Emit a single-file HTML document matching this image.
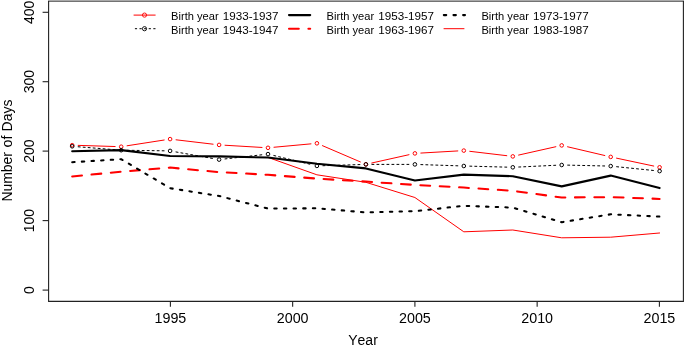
<!DOCTYPE html>
<html><head><meta charset="utf-8"><title>Chart</title>
<style>html,body{margin:0;padding:0;background:#fff;}svg{display:block;}text{font-family:"Liberation Sans",sans-serif;fill:#000;}svg{will-change:transform;}</style></head><body>
<svg width="685" height="347" viewBox="0 0 685 347">
<rect x="0" y="0" width="685" height="347" fill="#fff"/>
<rect x="48" y="0" width="636" height="1" fill="#a9a9a9"/>
<rect x="48" y="1" width="636" height="0.75" fill="#444"/>
<polyline points="48.6,1 48.6,301.4 683.4,301.4 683.4,1" fill="none" stroke="#222" stroke-width="1.1"/>
<line x1="42.6" y1="290.1" x2="48.6" y2="290.1" stroke="#222" stroke-width="1.1"/>
<text transform="translate(34,290.1) rotate(-90)" text-anchor="middle" font-size="14">0</text>
<line x1="42.6" y1="220.6" x2="48.6" y2="220.6" stroke="#222" stroke-width="1.1"/>
<text transform="translate(34,220.6) rotate(-90)" text-anchor="middle" font-size="14">100</text>
<line x1="42.6" y1="151.1" x2="48.6" y2="151.1" stroke="#222" stroke-width="1.1"/>
<text transform="translate(34,151.1) rotate(-90)" text-anchor="middle" font-size="14">200</text>
<line x1="42.6" y1="81.7" x2="48.6" y2="81.7" stroke="#222" stroke-width="1.1"/>
<text transform="translate(34,81.7) rotate(-90)" text-anchor="middle" font-size="14">300</text>
<line x1="42.6" y1="12.3" x2="48.6" y2="12.3" stroke="#222" stroke-width="1.1"/>
<text transform="translate(34,12.3) rotate(-90)" text-anchor="middle" font-size="14">400</text>
<line x1="170.4" y1="301.4" x2="170.4" y2="306.8" stroke="#222" stroke-width="1.1"/>
<text x="170.4" y="322.5" text-anchor="middle" font-size="14.3">1995</text>
<line x1="292.65" y1="301.4" x2="292.65" y2="306.8" stroke="#222" stroke-width="1.1"/>
<text x="292.65" y="322.5" text-anchor="middle" font-size="14.3">2000</text>
<line x1="414.9" y1="301.4" x2="414.9" y2="306.8" stroke="#222" stroke-width="1.1"/>
<text x="414.9" y="322.5" text-anchor="middle" font-size="14.3">2005</text>
<line x1="537.15" y1="301.4" x2="537.15" y2="306.8" stroke="#222" stroke-width="1.1"/>
<text x="537.15" y="322.5" text-anchor="middle" font-size="14.3">2010</text>
<line x1="659.4" y1="301.4" x2="659.4" y2="306.8" stroke="#222" stroke-width="1.1"/>
<text x="659.4" y="322.5" text-anchor="middle" font-size="14.3">2015</text>
<text x="348.3" y="345.3" font-size="14" style="font-kerning:none" textLength="29.5" lengthAdjust="spacing">Year</text>
<text transform="translate(12.2,201.6) rotate(-90)" font-size="14.2" textLength="49.6" lengthAdjust="spacingAndGlyphs">Number</text>
<text transform="translate(12.2,147.5) rotate(-90)" font-size="14.2">of</text>
<text transform="translate(12.2,131.4) rotate(-90)" font-size="14.2" textLength="31.8" lengthAdjust="spacingAndGlyphs">Days</text>
<line x1="78.20" y1="145.38" x2="115.15" y2="146.52" stroke="#ff0000" stroke-width="1.0" stroke-linecap="round"/>
<line x1="127.08" y1="145.78" x2="164.17" y2="140.02" stroke="#ff0000" stroke-width="1.0" stroke-linecap="round"/>
<line x1="176.06" y1="139.81" x2="213.09" y2="144.19" stroke="#ff0000" stroke-width="1.0" stroke-linecap="round"/>
<line x1="225.04" y1="145.25" x2="262.01" y2="147.45" stroke="#ff0000" stroke-width="1.0" stroke-linecap="round"/>
<line x1="273.97" y1="147.25" x2="310.98" y2="143.85" stroke="#ff0000" stroke-width="1.0" stroke-linecap="round"/>
<line x1="322.46" y1="145.67" x2="360.39" y2="161.93" stroke="#ff0000" stroke-width="1.0" stroke-linecap="round"/>
<line x1="371.76" y1="163.00" x2="408.99" y2="154.70" stroke="#ff0000" stroke-width="1.0" stroke-linecap="round"/>
<line x1="420.84" y1="153.06" x2="457.81" y2="150.94" stroke="#ff0000" stroke-width="1.0" stroke-linecap="round"/>
<line x1="469.76" y1="151.31" x2="506.79" y2="155.69" stroke="#ff0000" stroke-width="1.0" stroke-linecap="round"/>
<line x1="518.60" y1="155.08" x2="555.85" y2="146.72" stroke="#ff0000" stroke-width="1.0" stroke-linecap="round"/>
<line x1="567.54" y1="146.77" x2="604.81" y2="155.53" stroke="#ff0000" stroke-width="1.0" stroke-linecap="round"/>
<line x1="616.52" y1="158.15" x2="653.73" y2="166.05" stroke="#ff0000" stroke-width="1.0" stroke-linecap="round"/>
<circle cx="72.2" cy="145.2" r="1.8" fill="none" stroke="#ff0000" stroke-width="1.0"/>
<circle cx="121.2" cy="146.7" r="1.8" fill="none" stroke="#ff0000" stroke-width="1.0"/>
<circle cx="170.1" cy="139.1" r="1.8" fill="none" stroke="#ff0000" stroke-width="1.0"/>
<circle cx="219.1" cy="144.9" r="1.8" fill="none" stroke="#ff0000" stroke-width="1.0"/>
<circle cx="268.0" cy="147.8" r="1.8" fill="none" stroke="#ff0000" stroke-width="1.0"/>
<circle cx="316.9" cy="143.3" r="1.8" fill="none" stroke="#ff0000" stroke-width="1.0"/>
<circle cx="365.9" cy="164.3" r="1.8" fill="none" stroke="#ff0000" stroke-width="1.0"/>
<circle cx="414.9" cy="153.4" r="1.8" fill="none" stroke="#ff0000" stroke-width="1.0"/>
<circle cx="463.8" cy="150.6" r="1.8" fill="none" stroke="#ff0000" stroke-width="1.0"/>
<circle cx="512.8" cy="156.4" r="1.8" fill="none" stroke="#ff0000" stroke-width="1.0"/>
<circle cx="561.7" cy="145.4" r="1.8" fill="none" stroke="#ff0000" stroke-width="1.0"/>
<circle cx="610.7" cy="156.9" r="1.8" fill="none" stroke="#ff0000" stroke-width="1.0"/>
<circle cx="659.6" cy="167.3" r="1.8" fill="none" stroke="#ff0000" stroke-width="1.0"/>
<line x1="78.18" y1="146.78" x2="115.17" y2="149.72" stroke="#000" stroke-width="1.0" stroke-linecap="round" stroke-dasharray="2.0 3.0"/>
<line x1="127.15" y1="150.29" x2="164.10" y2="150.81" stroke="#000" stroke-width="1.0" stroke-linecap="round" stroke-dasharray="2.0 3.0"/>
<line x1="176.01" y1="151.95" x2="213.14" y2="158.55" stroke="#000" stroke-width="1.0" stroke-linecap="round" stroke-dasharray="2.0 3.0"/>
<line x1="225.01" y1="158.93" x2="262.04" y2="154.77" stroke="#000" stroke-width="1.0" stroke-linecap="round" stroke-dasharray="2.0 3.0"/>
<line x1="273.83" y1="155.51" x2="311.12" y2="164.49" stroke="#000" stroke-width="1.0" stroke-linecap="round" stroke-dasharray="2.0 3.0"/>
<line x1="322.95" y1="165.72" x2="359.90" y2="164.58" stroke="#000" stroke-width="1.0" stroke-linecap="round" stroke-dasharray="2.0 3.0"/>
<line x1="371.90" y1="164.40" x2="408.85" y2="164.40" stroke="#000" stroke-width="1.0" stroke-linecap="round" stroke-dasharray="2.0 3.0"/>
<line x1="420.85" y1="164.60" x2="457.80" y2="165.80" stroke="#000" stroke-width="1.0" stroke-linecap="round" stroke-dasharray="2.0 3.0"/>
<line x1="469.80" y1="166.16" x2="506.75" y2="167.14" stroke="#000" stroke-width="1.0" stroke-linecap="round" stroke-dasharray="2.0 3.0"/>
<line x1="518.74" y1="167.02" x2="555.71" y2="165.28" stroke="#000" stroke-width="1.0" stroke-linecap="round" stroke-dasharray="2.0 3.0"/>
<line x1="567.70" y1="165.13" x2="604.65" y2="165.97" stroke="#000" stroke-width="1.0" stroke-linecap="round" stroke-dasharray="2.0 3.0"/>
<line x1="616.62" y1="166.71" x2="653.63" y2="170.49" stroke="#000" stroke-width="1.0" stroke-linecap="round" stroke-dasharray="2.0 3.0"/>
<circle cx="72.2" cy="146.3" r="1.8" fill="none" stroke="#000" stroke-width="1.0"/>
<circle cx="121.2" cy="150.2" r="1.8" fill="none" stroke="#000" stroke-width="1.0"/>
<circle cx="170.1" cy="150.9" r="1.8" fill="none" stroke="#000" stroke-width="1.0"/>
<circle cx="219.1" cy="159.6" r="1.8" fill="none" stroke="#000" stroke-width="1.0"/>
<circle cx="268.0" cy="154.1" r="1.8" fill="none" stroke="#000" stroke-width="1.0"/>
<circle cx="316.9" cy="165.9" r="1.8" fill="none" stroke="#000" stroke-width="1.0"/>
<circle cx="365.9" cy="164.4" r="1.8" fill="none" stroke="#000" stroke-width="1.0"/>
<circle cx="414.9" cy="164.4" r="1.8" fill="none" stroke="#000" stroke-width="1.0"/>
<circle cx="463.8" cy="166.0" r="1.8" fill="none" stroke="#000" stroke-width="1.0"/>
<circle cx="512.8" cy="167.3" r="1.8" fill="none" stroke="#000" stroke-width="1.0"/>
<circle cx="561.7" cy="165.0" r="1.8" fill="none" stroke="#000" stroke-width="1.0"/>
<circle cx="610.7" cy="166.1" r="1.8" fill="none" stroke="#000" stroke-width="1.0"/>
<circle cx="659.6" cy="171.1" r="1.8" fill="none" stroke="#000" stroke-width="1.0"/>
<polyline points="268.0,157.4 316.9,174.8 365.9,182.3 414.9,197.5 463.8,231.8 512.8,230.0 561.7,237.8 610.7,237.2 659.6,233.0" fill="none" stroke="#ff0000" stroke-width="1.0" stroke-linejoin="round" stroke-linecap="round"/>
<polyline points="72.2,176.4 121.2,171.7 170.1,167.6 219.1,172.1 268.0,174.8 316.9,178.6 365.9,181.6 414.9,184.9 463.8,187.6 512.8,190.8 561.7,197.5 610.7,197.1 659.6,198.9" fill="none" stroke="#ff0000" stroke-width="2.05" stroke-dasharray="9.8 9.6" stroke-linejoin="round" stroke-linecap="round"/>
<polyline points="72.2,162.2 121.2,159.2 170.1,188.2 219.1,196.0 268.0,208.6 316.9,208.3 365.9,212.4 414.9,211.2 463.8,205.8 512.8,207.6 561.7,222.2 610.7,214.3 659.6,216.6" fill="none" stroke="#000" stroke-width="2.05" stroke-dasharray="2.45 7.2" stroke-linejoin="round" stroke-linecap="round"/>
<polyline points="72.2,151.2 121.2,150.1 170.1,156.0 219.1,156.4 268.0,157.5 316.9,163.7 365.9,168.4 414.9,180.5 463.8,174.6 512.8,176.2 561.7,186.4 610.7,175.6 659.6,188.1" fill="none" stroke="#000" stroke-width="2.1" stroke-linejoin="round" stroke-linecap="round"/>
<line x1="134" y1="15.1" x2="155.2" y2="15.1" stroke="#ff0000" stroke-width="1.0" stroke-linecap="round"/>
<circle cx="144.5" cy="15.1" r="2.1" fill="none" stroke="#ff0000" stroke-width="0.9"/>
<line x1="135.3" y1="28.7" x2="155.3" y2="28.7" stroke="#000" stroke-width="1.0" stroke-linecap="round" stroke-dasharray="1.4 3.2"/>
<circle cx="144.5" cy="28.7" r="2.1" fill="none" stroke="#000" stroke-width="0.9"/>
<line x1="289" y1="15.1" x2="310.2" y2="15.1" stroke="#000" stroke-width="2.1" stroke-linecap="round"/>
<line x1="289" y1="28.7" x2="310.2" y2="28.7" stroke="#ff0000" stroke-width="2.05" stroke-linecap="round" stroke-dasharray="9.8 9.6"/>
<line x1="443.8" y1="15.1" x2="465.0" y2="15.1" stroke="#000" stroke-width="2.05" stroke-linecap="round" stroke-dasharray="2.45 7.2"/>
<line x1="444" y1="28.7" x2="464" y2="28.7" stroke="#ff0000" stroke-width="1.0" stroke-linecap="round"/>
<text x="171.1" y="19.7" font-size="11.65" textLength="47.6" lengthAdjust="spacingAndGlyphs">Birth year</text>
<text x="222.8" y="19.7" font-size="11.65">1933-1937</text>
<text x="171.1" y="34.05" font-size="11.65" textLength="47.6" lengthAdjust="spacingAndGlyphs">Birth year</text>
<text x="222.8" y="34.05" font-size="11.65">1943-1947</text>
<text x="326.6" y="19.7" font-size="11.65" textLength="47.6" lengthAdjust="spacingAndGlyphs">Birth year</text>
<text x="378.3" y="19.7" font-size="11.65">1953-1957</text>
<text x="326.6" y="34.05" font-size="11.65" textLength="47.6" lengthAdjust="spacingAndGlyphs">Birth year</text>
<text x="378.3" y="34.05" font-size="11.65">1963-1967</text>
<text x="481.4" y="19.7" font-size="11.65" textLength="47.6" lengthAdjust="spacingAndGlyphs">Birth year</text>
<text x="533.1" y="19.7" font-size="11.65">1973-1977</text>
<text x="481.4" y="34.05" font-size="11.65" textLength="47.6" lengthAdjust="spacingAndGlyphs">Birth year</text>
<text x="533.1" y="34.05" font-size="11.65">1983-1987</text>
</svg></body></html>
